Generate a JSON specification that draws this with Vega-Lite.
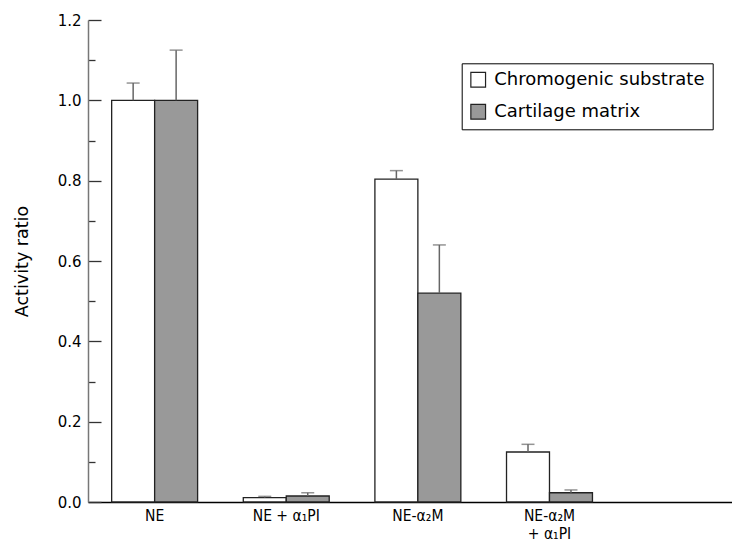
{
  "$schema": "https://vega.github.io/schema/vega-lite/v6.json",
  "width": 644,
  "height": 482,
  "autosize": {"type": "none"},
  "padding": {"left": 88, "top": 20, "right": 0, "bottom": 42},
  "background": "white",
  "config": {
    "view": {"stroke": null},
    "font": "DejaVu Sans"
  },
  "data": {
    "values": [
      {"group": "NE", "series": "Chromogenic substrate", "value": 1.0, "upper": 1.043},
      {"group": "NE", "series": "Cartilage matrix", "value": 1.0, "upper": 1.125},
      {"group": "NE + α₁PI", "series": "Chromogenic substrate", "value": 0.011, "upper": 0.014},
      {"group": "NE + α₁PI", "series": "Cartilage matrix", "value": 0.015, "upper": 0.023},
      {"group": "NE-α₂M", "series": "Chromogenic substrate", "value": 0.804, "upper": 0.825},
      {"group": "NE-α₂M", "series": "Cartilage matrix", "value": 0.52, "upper": 0.64},
      {"group": "NE-α₂M|+ α₁PI", "series": "Chromogenic substrate", "value": 0.1245, "upper": 0.1436},
      {"group": "NE-α₂M|+ α₁PI", "series": "Cartilage matrix", "value": 0.023, "upper": 0.03}
    ]
  },
  "encoding": {
    "x": {
      "field": "group",
      "type": "nominal",
      "sort": ["NE", "NE + α₁PI", "NE-α₂M", "NE-α₂M|+ α₁PI"],
      "scale": {"paddingInner": 0.347, "paddingOuter": 0.62, "align": 0.145},
      "axis": {
        "title": null,
        "labelAngle": 0,
        "ticks": false,
        "labelExpr": "split(datum.label, '|')",
        "labelFont": "DejaVu Sans Condensed",
        "labelFontSize": 15.5,
        "labelColor": "black",
        "labelPadding": 6,
        "labelLineHeight": 18,
        "domainColor": "black",
        "domainWidth": 1.5
      }
    },
    "xOffset": {
      "field": "series",
      "type": "nominal",
      "sort": ["Chromogenic substrate", "Cartilage matrix"],
      "scale": {"paddingInner": 0, "paddingOuter": 0}
    }
  },
  "layer": [
    {
      "mark": {"type": "bar", "stroke": "#222", "strokeWidth": 1.3},
      "encoding": {
        "y": {
          "field": "value",
          "type": "quantitative",
          "scale": {"domain": [0, 1.2], "nice": false, "zero": true},
          "axis": {
            "title": "Activity ratio",
            "titleFont": "DejaVu Sans",
            "titleFontSize": 17.5,
            "titleFontWeight": "normal",
            "titleColor": "black",
            "titleAngle": -90,
            "titleX": -61,
            "titleY": 241,
            "titleAlign": "center",
            "titleBaseline": "alphabetic",
            "values": [0, 0.1, 0.2, 0.3, 0.4, 0.5, 0.6, 0.7, 0.8, 0.9, 1.0, 1.1, 1.2],
            "labelExpr": "round(datum.value*10) % 2 == 0 ? format(datum.value, '.1f') : ''",
            "labelFont": "DejaVu Sans",
            "labelFontSize": 15,
            "labelColor": "black",
            "labelPadding": 20,
            "tickSize": {"condition": {"test": "round(datum.value*10) % 2 == 0", "value": -13}, "value": -7},
            "tickColor": "#333",
            "tickWidth": 1.3,
            "domainColor": "#777",
            "domainWidth": 1.5,
            "grid": false
          }
        },
        "fill": {
          "field": "series",
          "type": "nominal",
          "sort": ["Chromogenic substrate", "Cartilage matrix"],
          "scale": {"domain": ["Chromogenic substrate", "Cartilage matrix"], "range": ["white", "#999999"]},
          "legend": {
            "title": null,
            "orient": "none",
            "legendX": 373.7,
            "legendY": 43.3,
            "symbolType": "square",
            "symbolSize": 216,
            "symbolStrokeColor": "#222",
            "symbolStrokeWidth": 1.2,
            "labelFont": "DejaVu Sans",
            "labelFontSize": 18,
            "labelColor": "black",
            "labelOffset": 7,
            "labelLimit": 400,
            "rowPadding": 12,
            "strokeColor": "black",
            "fillColor": "white",
            "padding": 7.5
          }
        }
      }
    },
    {
      "mark": {"type": "rule", "color": "#666", "strokeWidth": 1.5},
      "encoding": {
        "y": {"field": "value", "type": "quantitative"},
        "y2": {"field": "upper"}
      }
    },
    {
      "mark": {"type": "tick", "color": "#666", "thickness": 1.5, "size": 13},
      "encoding": {
        "y": {"field": "upper", "type": "quantitative"}
      }
    }
  ]
}
